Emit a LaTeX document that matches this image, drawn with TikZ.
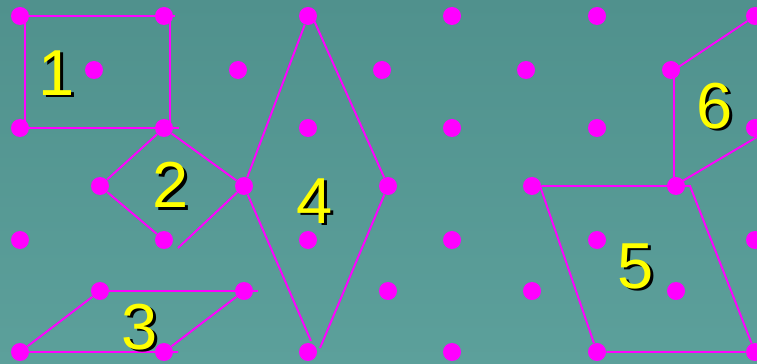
\documentclass[tikz,border=0pt]{standalone}
\usepackage{fontspec}
\setmainfont{Liberation Sans}
\usepackage{tikz}
\usetikzlibrary{calc}

\definecolor{teal1}{RGB}{80,145,141}
\definecolor{teal2}{RGB}{92,160,155}
\definecolor{pinkdot}{RGB}{255,0,255}
\definecolor{numyellow}{RGB}{255,255,0}
\tikzset{
  dot/.style={circle, fill=pinkdot, inner sep=0pt, minimum size=0.36cm},
  poly/.style={draw=pinkdot, line width=1.1pt},
  numtext/.style={font=\fontsize{37}{40}\selectfont, text=numyellow, inner sep=0pt},
  numshade/.style={numtext, text=black, xshift=0.05cm, yshift=-0.05cm}
}
\newcommand{\shapenum}[3]{%
  \node[numshade] at (#2) {#3};
  \node[numtext] (#1) at (#2) {#3};}

\begin{document}
\begin{tikzpicture}[x=0.02cm,y=-0.02cm]
        \useasboundingbox (0,0) rectangle (757,364);
        \clip (0,0) rectangle (757,364);
        \shade[top color=teal1, bottom color=teal2] (0,0) rectangle (757,364);
        % lattice
        \foreach \x [count=\i] in {20,164,308,452,597,755} {
            \node[dot] (a\i) at (\x,16) {};
            \node[dot] (c\i) at (\x,128) {};
            \node[dot] (e\i) at (\x,240) {};
            \node[dot] (g\i) at (\x,352) {};
        }
        \foreach \x [count=\i] in {94,238,382,526,671}
            \node[dot] (b\i) at (\x,70) {};
        \foreach \x [count=\i] in {100,244,388,532,676} {
            \node[dot] (d\i) at (\x,186) {};
            \node[dot] (f\i) at (\x,291) {};
        }
        % 1
        \draw[poly] (a1) -- ($(a2)+(11,0)$);
        \draw[poly] (c1) -- ($(c2)+(15,0)$);
        \draw[poly] ($(a1)+(5,0)$) -- ($(c1)+(5,0)$);
        \draw[poly] ($(a2)+(6,0)$) -- ($(c2)+(6,0)$);
        % 2
        \draw[poly] (c2) -- (d1) -- (e2);
        \draw[poly] (c2) -- (d2) -- ($(e2)+(14,8)$);
        % 3
        \draw[poly] (f1) -- ($(f2)+(14,0)$);
        \draw[poly] (f1) -- (g1) -- ($(g2)+(14,0)$);
        \draw[poly] (f2) -- (g2);
        % 4
        \draw[poly] (a3) -- (d2) -- ($(g3)+(3,-11)$);
        \draw[poly] ($(a3)+(4,0)$) -- (d3) -- ($(g3)+(12,-4)$);
        % 5
        \draw[poly] (d4) -- ($(d5)+(14,0)$) -- (g6) -- (g5) -- ($(d4)+(8,0)$);
        % 6
        \draw[poly] (a6) -- ($(b5)+(3,0)$) -- ($(d5)+(-2,0)$) -- ($(c6)+(2,9)$);
        % numbers
        \shapenum{n1}{57,73}{1}
        \shapenum{n2}{171,185}{2}
        \shapenum{n3}{140,327}{3}
        \shapenum{n4}{315,201}{4}
        \shapenum{n5}{636,266}{5}
        \shapenum{n6}{715,106}{6}
\end{tikzpicture}
\end{document}
